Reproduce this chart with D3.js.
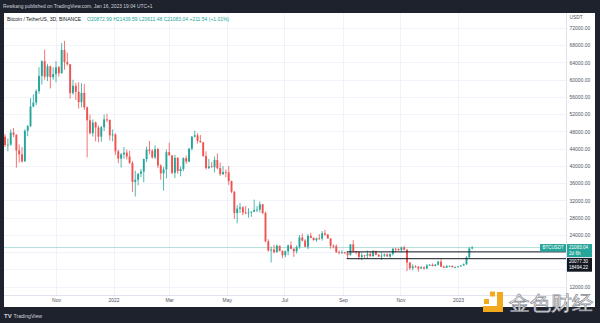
<!DOCTYPE html>
<html>
<head>
<meta charset="utf-8">
<script src="https://cdn.jsdelivr.net/npm/d3@7"></script>
<style>
  html, body { margin: 0; padding: 0; background: #1e222d; }
  svg { display: block; }
  text { font-family: "Liberation Sans", Roboto, sans-serif; }
</style>
</head>
<body>
<svg id="chart" width="600" height="323"></svg>
<script>
// BTC/USDT 3-day candles (Binance), open date of each bar
const dates = [
  "2021-09-08","2021-09-11","2021-09-14","2021-09-17","2021-09-20","2021-09-23","2021-09-26","2021-09-29",
  "2021-10-02","2021-10-05","2021-10-08","2021-10-11","2021-10-14","2021-10-17","2021-10-20","2021-10-23","2021-10-26","2021-10-29",
  "2021-11-01","2021-11-04","2021-11-07","2021-11-10","2021-11-13","2021-11-16","2021-11-19","2021-11-22","2021-11-25","2021-11-28",
  "2021-12-01","2021-12-04","2021-12-07","2021-12-10","2021-12-13","2021-12-16","2021-12-19","2021-12-22","2021-12-25","2021-12-28","2021-12-31",
  "2022-01-03","2022-01-06","2022-01-09","2022-01-12","2022-01-15","2022-01-18","2022-01-21","2022-01-24","2022-01-27","2022-01-30",
  "2022-02-02","2022-02-05","2022-02-08","2022-02-11","2022-02-14","2022-02-17","2022-02-20","2022-02-23","2022-02-26",
  "2022-03-01","2022-03-04","2022-03-07","2022-03-10","2022-03-13","2022-03-16","2022-03-19","2022-03-22","2022-03-25","2022-03-28","2022-03-31",
  "2022-04-03","2022-04-06","2022-04-09","2022-04-12","2022-04-15","2022-04-18","2022-04-21","2022-04-24","2022-04-27","2022-04-30",
  "2022-05-03","2022-05-06","2022-05-09","2022-05-12","2022-05-15","2022-05-18","2022-05-21","2022-05-24","2022-05-27","2022-05-30",
  "2022-06-02","2022-06-05","2022-06-08","2022-06-11","2022-06-14","2022-06-17","2022-06-20","2022-06-23","2022-06-26","2022-06-29",
  "2022-07-02","2022-07-05","2022-07-08","2022-07-11","2022-07-14","2022-07-17","2022-07-20","2022-07-23","2022-07-26","2022-07-29",
  "2022-08-01","2022-08-04","2022-08-07","2022-08-10","2022-08-13","2022-08-16","2022-08-19","2022-08-22","2022-08-25","2022-08-28","2022-08-31",
  "2022-09-03","2022-09-06","2022-09-09","2022-09-12","2022-09-15","2022-09-18","2022-09-21","2022-09-24","2022-09-27","2022-09-30",
  "2022-10-03","2022-10-06","2022-10-09","2022-10-12","2022-10-15","2022-10-18","2022-10-21","2022-10-24","2022-10-27","2022-10-30",
  "2022-11-02","2022-11-05","2022-11-08","2022-11-11","2022-11-14","2022-11-17","2022-11-20","2022-11-23","2022-11-26","2022-11-29",
  "2022-12-02","2022-12-05","2022-12-08","2022-12-11","2022-12-14","2022-12-17","2022-12-20","2022-12-23","2022-12-26","2022-12-29",
  "2023-01-01","2023-01-04","2023-01-07","2023-01-10","2023-01-13","2023-01-16"
];
const opens = [
  46800,44850,44950,47750,47250,43600,42700,41050,
  48150,49250,53800,54700,57350,60900,64300,60700,63100,60600,
  61300,62900,61500,66900,64100,63600,56900,58600,57200,54800,
  56950,53600,50600,47600,50100,48900,46800,49000,50800,50700,47100,
  47300,43400,41700,42700,43100,42200,40700,36300,36800,38200,
  38700,41600,43800,43500,42000,43900,40100,38300,39200,
  43200,42450,38400,41900,38800,39300,41800,41000,44000,46800,47100,
  45800,45500,42300,39500,39900,39700,41400,39500,38100,38600,
  38500,36500,34000,29100,30100,30400,29200,29100,29200,29400,
  29800,29900,31100,29100,22500,20400,20600,20000,21500,20300,
  19300,20200,21600,20800,20200,21200,23400,22700,21250,23800,
  23280,22800,23200,23150,24400,24100,23180,21500,21400,20000,19800,
  20000,19800,19300,21800,20200,20100,18900,19300,19200,19600,
  19050,20200,19400,19000,19200,19500,19000,19600,20800,20750,
  20500,21100,20600,17600,16300,16700,16650,16200,16500,16200,
  16900,17100,16800,17100,17800,16630,16400,16800,16840,16500,
  16540,16700,16900,17200,18800,20872.99
];
const highs = [
  47400,46400,48500,48800,47350,45000,44400,48500,
  49500,55750,56600,57800,62900,64500,67000,63700,63300,62900,
  64300,63200,68500,69000,66300,63600,60000,59300,59400,59200,
  59000,53800,51900,50800,50300,49400,49300,51900,52100,50700,48500,
  47600,43800,43000,44400,43800,43500,41100,38900,38300,39300,
  41700,44500,45800,43900,44800,44200,40400,39800,43800,
  45400,42500,42600,42000,39900,42000,42400,44200,46900,48200,47600,
  47200,45500,43400,41600,40900,42200,42900,40800,40000,39200,
  40000,36600,34200,30900,31400,30700,30700,30200,29500,32200,
  30700,31800,31200,29400,23000,21300,21700,21800,21500,20400,
  20400,21800,22500,20900,21600,24000,24300,23000,24200,24500,
  23500,23400,24200,24900,25200,24200,23200,21800,21800,20400,20500,
  20100,20100,21900,22800,20300,20100,19900,19300,20400,20200,
  20500,20400,19600,19950,19700,19700,19700,21000,21000,20900,
  21300,21500,20700,17700,17200,17000,16800,16800,16700,17300,
  17200,17400,17300,18000,18400,16900,17000,16900,16900,16700,
  16800,17000,17400,19100,21200,21439.59
];
const lows = [
  44400,43400,44700,46700,39600,40800,40800,41000,
  46900,49000,53600,54100,56800,58900,60000,59700,58000,60000,
  59400,60700,61400,62300,63300,55600,56500,55300,53300,53600,
  53000,42000,47300,46800,45700,45500,45600,48100,50200,45900,45700,
  42600,40600,39650,41700,41500,40500,34000,32900,35500,37400,
  36200,40900,42700,41700,41600,39500,36800,34300,37100,
  42500,38100,37200,38200,37600,38800,40500,40900,43600,46600,45200,
  45400,42100,39200,39300,39600,38500,39200,37700,37900,37400,
  35600,33700,27700,26700,29100,28600,28800,28000,28200,29300,
  29300,29200,28800,22300,20100,17600,19700,19900,20200,18600,
  18800,19300,20700,18900,19700,20800,22500,21300,20700,23300,
  22700,22400,22900,22700,23800,23200,20800,20900,19800,19500,19600,
  19600,18500,19300,19900,19500,18300,18100,18600,18500,19000,
  19000,19300,18900,18200,18900,18900,18700,19200,20000,20300,
  20000,20400,15600,15900,15800,16400,15500,16200,16000,16100,
  16800,16700,16700,16900,16600,16300,16400,16600,16500,16300,
  16500,16600,16900,17100,18700,20611.48
];
const closes = [
  44850,44950,47750,47250,43600,42700,41050,48150,
  49250,53800,54700,57350,60900,64300,60700,63100,60600,61300,
  62900,61500,66900,64100,63600,56900,58600,57200,54800,56950,
  53600,50600,47600,50100,48900,46800,49000,50800,50700,47100,47300,
  43400,41700,42700,43100,42200,40700,36300,36800,38200,38700,
  41600,43800,43500,42000,43900,40100,38300,39200,43200,
  42450,38400,41900,38800,39300,41800,41000,44000,46800,47100,45800,
  45500,42300,39500,39900,39700,41400,39500,38100,38600,38500,
  36500,34000,29100,30100,30400,29200,29100,29200,29400,29800,
  29900,31100,29100,22500,20400,20600,20000,21500,20300,19300,
  20200,21600,20800,20200,21200,23400,22700,21250,23800,23280,
  22800,23200,23150,24400,24100,23180,21500,21400,20000,19800,20000,
  19800,19300,21800,20200,20100,18900,19300,19200,19600,19050,
  20200,19400,19000,19200,19500,19000,19600,20800,20750,20500,
  21100,20600,17600,16300,16700,16650,16200,16500,16200,16900,
  17100,16800,17100,17800,16630,16400,16800,16840,16500,16540,
  16700,16900,17200,18800,20871.50,21083.04
];

// Axis ticks (grid at every level, labels where the axis is not covered)
const priceTicks = [12000,16000,20000,24000,28000,32000,36000,40000,44000,48000,52000,56000,60000,64000,68000,72000];
const priceLabelTicks = [12000,24000,28000,32000,36000,40000,44000,48000,52000,56000,60000,64000,68000,72000];
const timeTicks = ["2021-11-01","2022-01-01","2022-03-01","2022-05-01","2022-07-01","2022-09-01","2022-11-01","2023-01-01"];
const timeLabels = ["Nov","2022","Mar","May","Jul","Sep","Nov","2023"];

// Horizontal levels drawn on the chart
const levelStart = "2022-09-05";
const levels = [20077.30, 18494.22];
const lastPrice = 21083.04;

const parse = d3.utcParse("%Y-%m-%d");
const bars = dates.map((d, i) => ({
  t: parse(d), o: opens[i], h: highs[i], l: lows[i], c: closes[i]
}));

const svg = d3.select("#chart");
const W = 600, H = 323;
const panel = { x: 4, y: 13, w: 591, h: 294 };
const plot = { left: 4, right: 566, top: 13, bottom: 295 };

const x = d3.scaleUtc()
  .domain([parse("2021-11-01"), parse("2023-01-01")])
  .range([56, 458]);
const y = d3.scaleLinear()
  .domain([12000, 72000])
  .range([286.7, 28]);

const UP = "#26a69a", DOWN = "#ef5350";
const fmt2 = d3.format(".2f");

// page frame
svg.append("rect").attr("width", W).attr("height", H).attr("fill", "#1e222d");
svg.append("text")
  .attr("x", 3).attr("y", 8)
  .attr("font-size", 4.9).attr("fill", "#d1d4dc")
  .text("Rewkang published on TradingView.com, Jan 16, 2023 19:04 UTC+1");

svg.append("rect")
  .attr("x", panel.x).attr("y", panel.y)
  .attr("width", panel.w).attr("height", panel.h)
  .attr("fill", "#ffffff");

svg.append("defs").append("clipPath").attr("id", "plotClip")
  .append("rect")
  .attr("x", plot.left).attr("y", plot.top)
  .attr("width", plot.right - plot.left).attr("height", plot.bottom - plot.top);

// grid
const grid = svg.append("g").attr("stroke", "#f0f3fa").attr("stroke-width", 1);
grid.selectAll("line.h").data(priceTicks).join("line")
  .attr("x1", plot.left).attr("x2", plot.right)
  .attr("y1", d => Math.round(y(d)) + 0.5).attr("y2", d => Math.round(y(d)) + 0.5);
grid.selectAll("line.v").data(timeTicks).join("line")
  .attr("y1", plot.top).attr("y2", plot.bottom)
  .attr("x1", d => Math.round(x(parse(d))) + 0.5).attr("x2", d => Math.round(x(parse(d))) + 0.5);

const chart = svg.append("g").attr("clip-path", "url(#plotClip)");

// last price line
chart.append("line")
  .attr("x1", plot.left).attr("x2", plot.right)
  .attr("y1", y(lastPrice)).attr("y2", y(lastPrice))
  .attr("stroke", UP).attr("stroke-opacity", 0.35).attr("stroke-width", 1);

// candles
const bw = 1.9;
const candle = chart.selectAll("g.candle").data(bars).join("g")
  .attr("class", "candle");
candle.append("line")
  .attr("x1", d => x(d.t)).attr("x2", d => x(d.t))
  .attr("y1", d => y(d.h)).attr("y2", d => y(d.l))
  .attr("stroke", d => d.c >= d.o ? UP : DOWN)
  .attr("stroke-width", 0.8);
candle.append("rect")
  .attr("x", d => x(d.t) - bw / 2)
  .attr("width", bw)
  .attr("y", d => y(Math.max(d.o, d.c)))
  .attr("height", d => Math.max(0.8, Math.abs(y(d.o) - y(d.c))))
  .attr("fill", d => d.c >= d.o ? UP : DOWN);

// horizontal levels
chart.selectAll("line.level").data(levels).join("line")
  .attr("class", "level")
  .attr("x1", x(parse(levelStart))).attr("x2", plot.right)
  .attr("y1", d => y(d)).attr("y2", d => y(d))
  .attr("stroke", "#131722").attr("stroke-width", 1);

// axes separators
svg.append("line")
  .attr("x1", plot.right + 0.5).attr("x2", plot.right + 0.5)
  .attr("y1", panel.y).attr("y2", panel.y + panel.h)
  .attr("stroke", "#e0e3eb");
svg.append("line")
  .attr("x1", plot.left).attr("x2", plot.right)
  .attr("y1", plot.bottom + 0.5).attr("y2", plot.bottom + 0.5)
  .attr("stroke", "#e0e3eb");

// price axis
const yAxis = svg.append("g")
  .attr("transform", `translate(${plot.right},0)`)
  .call(d3.axisRight(y).tickValues(priceLabelTicks).tickSize(0).tickPadding(3.5)
    .tickFormat(fmt2));
yAxis.select(".domain").remove();
yAxis.selectAll("text").attr("font-size", 5).attr("fill", "#50535e")
  .attr("font-family", "Liberation Sans, sans-serif");

svg.append("text")
  .attr("x", plot.right + 3.5).attr("y", 19)
  .attr("font-size", 4.8).attr("fill", "#50535e")
  .text("USDT");

// time axis
const xAxis = svg.append("g")
  .attr("transform", `translate(0,${plot.bottom})`)
  .call(d3.axisBottom(x).tickValues(timeTicks.map(parse)).tickSize(0).tickPadding(3.5)
    .tickFormat((d, i) => timeLabels[i]));
xAxis.select(".domain").remove();
xAxis.selectAll("text").attr("font-size", 5).attr("fill", "#50535e")
  .attr("font-family", "Liberation Sans, sans-serif");

// chart legend line
const last = bars[bars.length - 1];
const prev = bars[bars.length - 2];
const chg = last.c - prev.c;
const legend = svg.append("text")
  .attr("x", 7).attr("y", 21)
  .attr("font-size", 5).attr("fill", "#131722");
legend.append("tspan").text("Bitcoin / TetherUS, 3D, BINANCE");
legend.append("tspan").attr("x", 87).attr("fill", UP)
  .text(`O${fmt2(last.o)} H${fmt2(last.h)} L${fmt2(last.l)} C${fmt2(last.c)} ${d3.format("+.2f")(chg)} (${d3.format("+.2%")(chg / prev.c)})`);

// price labels on the axis
const yl = y(lastPrice);
svg.append("rect").attr("x", 540).attr("y", yl - 3.5).attr("width", 26).attr("height", 7.5).attr("fill", UP);
svg.append("text").attr("x", 553).attr("y", yl + 1.8).attr("text-anchor", "middle")
  .attr("font-size", 4.5).attr("fill", "#fff").text("BTCUSDT");
svg.append("rect").attr("x", 567).attr("y", yl - 3.5).attr("width", 25).attr("height", 13).attr("fill", UP);
svg.append("text").attr("x", 569).attr("y", yl + 1.7).attr("font-size", 4.6).attr("fill", "#fff")
  .text(fmt2(lastPrice));
svg.append("text").attr("x", 569).attr("y", yl + 7.4).attr("font-size", 4.6).attr("fill", "#fff")
  .text("2d 6h");
const y0 = y(levels[0]), y1 = y(levels[1]);
svg.append("rect").attr("x", 567).attr("y", y0 + 6).attr("width", 25).attr("height", y1 - y0 + 7).attr("fill", "#131722");
svg.append("text").attr("x", 569).attr("y", y0 + 10.8).attr("font-size", 4.6).attr("fill", "#fff")
  .text(fmt2(levels[0]));
svg.append("text").attr("x", 569).attr("y", y1 + 10.8).attr("font-size", 4.6).attr("fill", "#fff")
  .text(fmt2(levels[1]));

// TradingView mark
const tv = svg.append("g").attr("fill", "#d1d4dc");
tv.append("text").attr("x", 4).attr("y", 317.5).attr("font-size", 6).attr("font-weight", "bold").text("TV");
tv.append("text").attr("x", 13.5).attr("y", 317.5).attr("font-size", 5.2).text("TradingView");

// watermark
const wm = svg.append("g");
const gold = "#f2a91e";
wm.append("rect").attr("x", 490).attr("y", 291.5).attr("width", 5).attr("height", 5).attr("fill", gold);
wm.append("rect").attr("x", 484).attr("y", 299).attr("width", 5).attr("height", 5).attr("fill", gold);
wm.append("path").attr("d", "M497,292 H503 V312 H483 V306 H497 Z").attr("fill", gold);
wm.append("text").attr("x", 509).attr("y", 309.5)
  .attr("font-family", "Noto Sans CJK SC").attr("font-size", 20)
  .attr("textLength", 84).attr("lengthAdjust", "spacingAndGlyphs")
  .attr("fill", "#ffffff").attr("stroke", "#8a8d96").attr("stroke-width", 0.7)
  .text("金色财经");
</script>
</body>
</html>
